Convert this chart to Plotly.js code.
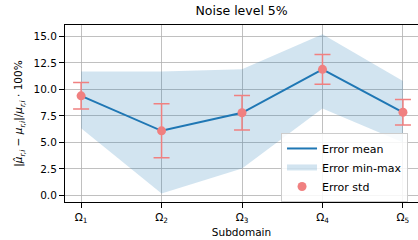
<!DOCTYPE html>
<html><head><meta charset="utf-8">
<script src="https://cdn.plot.ly/plotly-3.0.1.min.js"></script>
<style>html,body{margin:0;padding:0;background:#fff}#c{width:418px;height:240px}</style>
</head><body><div id="c"></div>
<script>
const categories = [0, 1, 2, 3, 4];
const tickLabels = ["Ω<sub>1</sub>", "Ω<sub>2</sub>", "Ω<sub>3</sub>", "Ω<sub>4</sub>", "Ω<sub>5</sub>"];
const errMean = [9.4, 6.1, 7.8, 11.9, 7.85];
const errStd = [1.25, 2.55, 1.62, 1.4, 1.2];
const errMax = [11.7, 11.7, 11.9, 15.2, 10.8];
const errMin = [6.35, 0.2, 2.55, 8.2, 5.0];
const yTicks = [0, 2.5, 5, 7.5, 10, 12.5, 15];

const bandX = categories.concat(categories.slice().reverse());
const bandY = errMax.concat(errMin.slice().reverse());

const font = {family: "DejaVu Sans, sans-serif", size: 10.5, color: "#000"};
const data = [
  {x: bandX, y: bandY, type: "scatter", mode: "none", fill: "toself",
   fillcolor: "rgba(31,119,180,0.2)", name: "Error min-max", legendrank: 2, hoverinfo: "skip"},
  {x: categories, y: errMean, type: "scatter", mode: "lines",
   line: {color: "#1f77b4", width: 2}, name: "Error mean", legendrank: 1},
  {x: categories, y: errMean, type: "scatter", mode: "markers",
   marker: {color: "#f08080", size: 9},
   error_y: {type: "data", array: errStd, visible: true, color: "#f08080", thickness: 1.5, width: 8},
   name: "Error std", legendrank: 3}
];
const layout = {
  width: 418, height: 240,
  margin: {l: 65, r: 0, t: 25, b: 38},
  paper_bgcolor: "#fff", plot_bgcolor: "#fff",
  font: font,
  title: {text: "Noise level 5%", font: {family: font.family, size: 12.5, color: "#000"}, x: 0.578, xanchor: "center", y: 0.955, yanchor: "middle"},
  showlegend: true,
  legend: {x: 0.612, y: 0.39, xanchor: "left", yanchor: "top", bgcolor: "rgba(255,255,255,0.85)",
           bordercolor: "#cccccc", borderwidth: 1, font: {family: font.family, size: 11, color: "#000"}},
  xaxis: {range: [-0.2, 4.187], tickvals: categories, ticktext: tickLabels, showgrid: true, gridcolor: "#b0b0b0", gridwidth: 0.8,
          zeroline: false, showline: true, linecolor: "#000", linewidth: 1, mirror: true,
          ticks: "outside", ticklen: 5, tickcolor: "#000", tickfont: font,
          title: {text: "Subdomain", font: font, standoff: 4}},
  yaxis: {range: [-0.613, 16.08], tickvals: yTicks, tickformat: ".1f", showgrid: true, gridcolor: "#b0b0b0", gridwidth: 0.8,
          zeroline: false, showline: true, linecolor: "#000", linewidth: 1, mirror: false,
          ticks: "outside", ticklen: 5, tickcolor: "#000", tickfont: font,
          title: {text: "|<i>μ̂</i><sub><i>r,i</i></sub> − <i>μ</i><sub><i>r,i</i></sub>|/<i>μ</i><sub><i>r,i</i></sub> · 100%", font: font, standoff: 8}}
};
Plotly.newPlot("c", data, layout, {displayModeBar: false, staticPlot: true});
</script></body></html>
